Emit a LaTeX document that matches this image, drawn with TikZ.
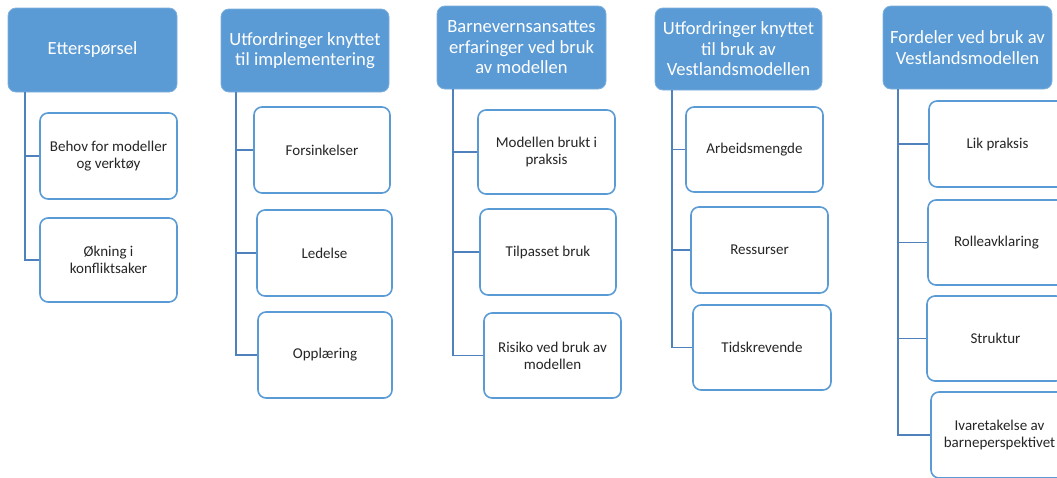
\documentclass[tikz,border=0pt]{standalone}
\usepackage{fontspec}
\setmainfont{Carlito}
\definecolor{hblue}{HTML}{5B9BD5}
\definecolor{lblue}{HTML}{4F81BD}
\definecolor{tgray}{HTML}{262626}
\begin{document}
\begin{tikzpicture}[x=1pt,y=-1pt,
  head/.style={rectangle, rounded corners=8pt, fill=hblue, draw=hblue!80!white, line width=0.8pt,
    text=white, align=center, inner sep=0pt,
    font=\fontsize{18.6}{20.5}\selectfont},
  child/.style={rectangle, rounded corners=8pt, fill=white, draw=hblue, line width=1.6pt,
    text=tgray, align=center, inner sep=0pt, minimum width=137pt,
    font=\fontsize{15}{17}\selectfont},
  conn/.style={draw=lblue, line width=1.6pt}]
\useasboundingbox (0,0) rectangle (1057,477);
\clip (0,0) rectangle (1057,477);
% headers
\node[head, minimum width=169pt, minimum height=84pt] (h1) at (92.5,50) {Etterspørsel};
\node[head, minimum width=168pt, minimum height=83pt] (h2) at (305,50.5) {Utfordringer knyttet\\til implementering};
\node[head, minimum width=169pt, minimum height=83pt] (h3) at (521.5,47.5) {Barneverns\-ansattes\\erfaringer ved bruk\\av modellen};
\node[head, minimum width=167pt, minimum height=82pt] (h4) at (738.5,49) {Utfordringer knyttet\\til bruk av\\Vestlandsmodellen};
\node[head, minimum width=169pt, minimum height=83pt] (h5) at (967.5,47.5) {Fordeler ved bruk av\\Vestlandsmodellen};
% children column 1
\node[child, minimum height=86pt] (c11) at (108.5,156) {Behov for modeller\\og verktøy};
\node[child, minimum height=84pt] (c12) at (108.5,260) {Økning i\\konfliktsaker};
% column 2
\node[child, minimum width=136pt, minimum height=86pt] (c21) at (322,150) {Forsinkelser};
\node[child, minimum width=135pt, minimum height=86pt] (c22) at (324.5,253) {Ledelse};
\node[child, minimum width=134pt, minimum height=86pt] (c23) at (325,355) {Opplæring};
% column 3
\node[child, minimum height=84pt] (c31) at (546.5,152) {Modellen brukt i\\praksis};
\node[child, minimum width=136pt, minimum height=86pt] (c32) at (548,252) {Tilpasset bruk};
\node[child, minimum height=85pt] (c33) at (552.5,355.5) {Risiko ved bruk av\\modellen};
% column 4
\node[child, minimum height=85pt] (c41) at (754.5,149.5) {Arbeidsmengde};
\node[child, minimum height=86pt] (c42) at (759.5,250) {Ressurser};
\node[child, minimum width=138pt, minimum height=85pt] (c43) at (762,347.5) {Tidskrevende};
% column 5
\node[child, minimum height=86pt] (c51) at (997.5,144) {Lik praksis};
\node[child, minimum height=85pt] (c52) at (996.5,242.5) {Rolleavklaring};
\node[child, minimum height=85pt] (c53) at (995.5,338.5) {Struktur};
\node[child, minimum height=86pt] (c54) at (999.5,435) {Ivaretakelse av\\barneperspektivet};
% connectors
\coordinate (v1) at (25,92);
\coordinate (v2) at (236,92);
\coordinate (v3) at (453,89);
\coordinate (v4) at (672,90);
\coordinate (v5) at (898,89);
\draw[conn] (v1) |- (c11.west);
\draw[conn] (v1) |- (c12.west);
\draw[conn] (v2) |- (c21.west);
\draw[conn] (v2) |- (c22.west);
\draw[conn] (v2) |- (c23.west);
\draw[conn] (v3) |- (c31.west);
\draw[conn] (v3) |- (c32.west);
\draw[conn] (v3) |- (c33.west);
\draw[conn] (v4) |- (c41.west);
\draw[conn] (v4) |- (c42.west);
\draw[conn] (v4) |- (c43.west);
\draw[conn] (v5) |- (c51.west);
\draw[conn] (v5) |- (c52.west);
\draw[conn] (v5) |- (c53.west);
\draw[conn] (v5) |- (c54.west);
\end{tikzpicture}
\end{document}
